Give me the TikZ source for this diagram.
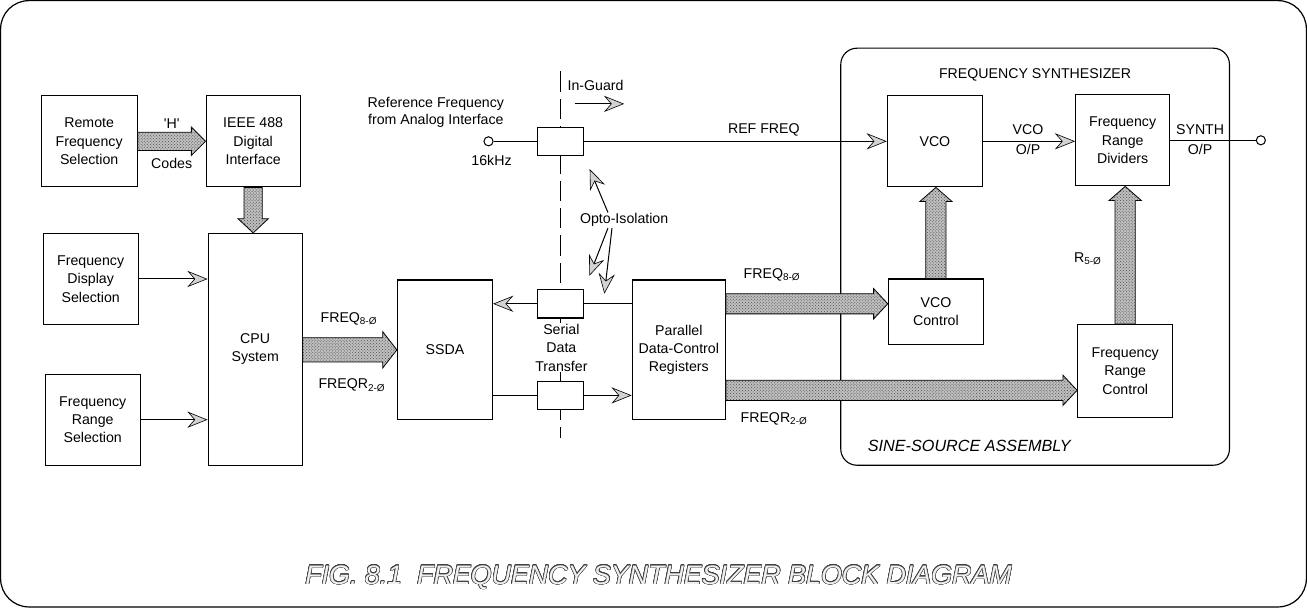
\documentclass[tikz,border=0pt]{standalone}
\usepackage{fontspec}
\setmainfont{Liberation Sans}
\usepackage[copies]{contour}
\contourlength{0.55pt}
\contournumber{20}
\usetikzlibrary{arrows.meta,calc,positioning,patterns}

\begin{document}
\begin{tikzpicture}[x=1pt, y=-1pt, font=\fontsize{14}{18}\selectfont,
  box/.style={draw, line width=1.1pt, fill=white, align=center, inner sep=2pt, minimum width=93pt, minimum height=90pt},
  opto/.style={draw, line width=1.1pt, fill=white, minimum width=46pt, minimum height=28pt, inner sep=0pt},
  term/.style={circle, draw, line width=1pt, fill=white, minimum size=9pt, inner sep=0pt},
  wire/.style={line width=1pt},
  arr/.style={wire, -{Stealth[length=20pt, width=16pt, inset=7pt, fill=gray!35, line width=0.6pt]}},
  lab/.style={align=center, inner sep=1pt},
  busfill/.style={draw, line width=0.8pt, fill=gray!50,
    postaction={pattern=crosshatch dots, pattern color=black!70}},
  bus/.style 2 args={to path={let \p1=(\tikztostart), \p2=(\tikztotarget),
    \n1={atan2(\y2-\y1,\x2-\x1)}, \n2={veclen(\x2-\x1,\y2-\y1)} in
    ($(\p1)+(\n1+90:#1pt)$) -- ++(\n1:\n2-14pt) -- ++(\n1+90:#2pt-#1pt) -- (\p2)
    -- ($(\p2)+(\n1+180:14pt)+(\n1-90:#2pt)$) -- ++(\n1+90:#2pt-#1pt) -- ++(\n1+180:\n2-14pt) -- cycle}}]
% frames
\draw[line width=1.2pt, rounded corners=28pt] (8,8) rectangle (1298,607);
\draw[line width=1.1pt, rounded corners=16pt] (838,55) rectangle (1222,467);
\node (synt) at (1030,81) {FREQUENCY SYNTHESIZER};
\node[font=\fontsize{16}{18}\selectfont\itshape] (sine) at (965,448) {SINE-SOURCE ASSEMBLY};
% guard line
\coordinate (gtop) at (561,78);
\coordinate (gbot) at (561,440);
\draw[line width=1.1pt, dash pattern=on 20pt off 7pt] (gtop) -- (gbot);
% blocks
\node[box, minimum width=95pt] (rem) at (95.5,147) {Remote\\Frequency\\Selection};
\node[box] (ieee) at (257.5,147) {IEEE 488\\Digital\\Interface};
\node[box, minimum width=94pt] (disp) at (97,283) {Frequency\\Display\\Selection};
\node[box, minimum width=94pt] (rng) at (99,422) {Frequency\\Range\\Selection};
\node[box, minimum height=229pt] (cpu) at (259.5,352.5) {CPU\\System};
\node[box, minimum width=94pt, minimum height=138pt] (ssda) at (447,353) {SSDA};
\node[box, minimum width=92pt, minimum height=138pt] (par) at (678,353) {Parallel\\Data-Control\\Registers};
\node[opto] (opt1) at (561,147) {};
\node[opto] (opt2) at (561,307.5) {};
\node[opto] (opt3) at (561,398) {};
\node[lab, fill=white] (sdt) at (562,351) {Serial\\Data\\Transfer};
\node[box, minimum width=94pt] (vco) at (931,147) {VCO};
\node[box] (div) at (1116.5,146) {Frequency\\Range\\Dividers};
\node[box, minimum width=94pt, minimum height=65pt] (vcoc) at (932,315.5) {VCO\\Control};
\node[box, minimum width=94pt, minimum height=92pt] (frc) at (1119,374) {Frequency\\Range\\Control};
\node[term] (refin) at (490,147) {};
\node[term] (synout) at (1253,146) {};
% labels
\node[lab] (hq) at (177,130) {\textquotesingle H\textquotesingle};
\node[lab] (codes) at (177,169) {Codes};
\node[lab, font=\fontsize{14}{17}\selectfont] (ffreq) at (438,118.5) {Reference Frequency\\from Analog Interface};
\node[lab] (khz) at (493,166) {16kHz};
\node[lab, anchor=west] (inguard) at (567,92) {In-Guard};
\node[lab] (reff) at (762,136) {REF FREQ};
\node[lab] (opto) at (624,225) {Opto-Isolation};
\node[lab, font=\fontsize{14}{20}\selectfont] (vcoop) at (1023,145) {VCO\\O/P};
\node[lab, font=\fontsize{14}{20}\selectfont] (synop) at (1193,145) {SYNTH\\O/P};
\node[lab] (f8a) at (352,322) {FREQ\textsubscript{8-Ø}};
\node[lab] (fr2a) at (355,388) {FREQR\textsubscript{2-Ø}};
\node[lab] (f8b) at (770,279) {FREQ\textsubscript{8-Ø}};
\node[lab] (fr2b) at (772,421) {FREQR\textsubscript{2-Ø}};
\node[lab] (r5) at (1082,263) {R\textsubscript{5-Ø}};
% wires
\draw[wire] (refin) -- (opt1);
\draw[arr] (opt1.east) -- (vco.west);
\draw[arr] (vco.east) -- (vco.east -| div.west);
\draw[wire] (div.east) -- (synout);
\draw[arr] (disp.east) -- (disp.east -| cpu.west);
\draw[arr] (rng.east) -- (rng.east -| cpu.west);
\draw[wire] (par.west |- opt2.east) -- (opt2.east);
\draw[arr] (opt2.west) -- (opt2.west -| ssda.east);
\draw[wire] (ssda.east |- opt3.west) -- (opt3.west);
\draw[arr] (opt3.east) -- (opt3.east -| par.west);
\coordinate (ig1) at (575,110);
\coordinate (ig2) at (624,110);
\draw[arr] (ig1) -- (ig2);
\draw[arr, shorten >=14pt] ([xshift=-16pt]opto.north) -- (opt1.south east);
\draw[arr, shorten >=14pt] ([xshift=-16pt]opto.south) -- (opt2.north east);
\draw[arr, shorten >=10pt] ([xshift=-12pt]opto.south) -- ($(opt2.east)!0.4!(opt2.east -| par.west)$);
% buses
\coordinate (rb) at ([yshift=-40pt]par.east);
\path[busfill] (rem.east) to[bus={9}{14}] (ieee.west);
\path[busfill] (ieee.south) to[bus={9}{15}] (ieee.south |- cpu.north);
\path[busfill] (cpu.east |- ssda.west) to[bus={12}{18}] (ssda.west);
\path[busfill] (par.east |- opt2.east) to[bus={10}{15}] (vcoc.west |- opt2.east);
\path[busfill] (rb) to[bus={10}{15}] (rb -| frc.west);
\path[busfill] (vcoc.north) to[bus={10}{16}] (vcoc.north |- vco.south);
\path[busfill] (frc.north) to[bus={10}{16}] (frc.north |- div.south);
% caption
\node[font=\fontsize{26.5}{30}\selectfont\itshape, text=gray!12] (cap) at (658,578)
  {\contour{black!75}{FIG. 8.1\ \ FREQUENCY SYNTHESIZER BLOCK DIAGRAM}};
\end{tikzpicture}
\end{document}
